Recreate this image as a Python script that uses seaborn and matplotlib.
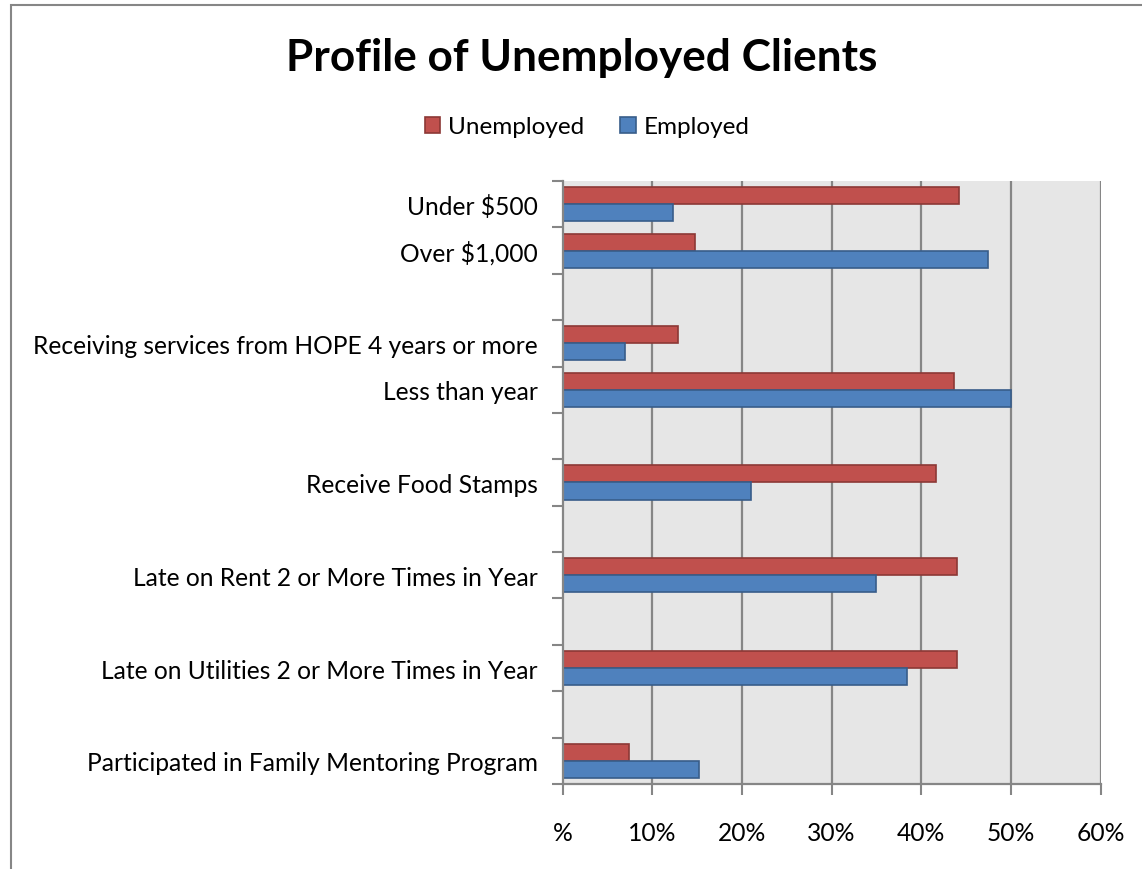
import matplotlib
matplotlib.use("Agg")
import matplotlib.pyplot as plt
from matplotlib.patches import Rectangle
from matplotlib.ticker import FixedLocator
import seaborn as sns
import pandas as pd
import numpy as np

# ---- data ----
categories = ["Under $500", "Over $1,000", "",
              "Receiving services from HOPE 4 years or more", "Less than year", "",
              "Receive Food Stamps", "",
              "Late on Rent 2 or More Times in Year", "",
              "Late on Utilities 2 or More Times in Year", "",
              "Participated in Family Mentoring Program"]
unemployed = [44.2, 14.8, None, 12.9, 43.6, None, 41.6, None, 44.0, None, 44.0, None, 7.4]
employed = [12.3, 47.4, None, 7.0, 50.0, None, 21.0, None, 34.9, None, 38.4, None, 15.2]
series = ["Unemployed", "Employed"]
x_ticks = [0, 10, 20, 30, 40, 50, 60]
x_tick_labels = ["%", "10%", "20%", "30%", "40%", "50%", "60%"]

slots = [f"s{i:02d}" for i in range(len(categories))]
rows = []
for s, u, e in zip(slots, unemployed, employed):
    if u is not None:
        rows.append({"slot": s, "status": series[0], "value": u})
    if e is not None:
        rows.append({"slot": s, "status": series[1], "value": e})
df = pd.DataFrame(rows)

RED, RED_E = "#C0504D", "#8C3836"
BLUE, BLUE_E = "#4F81BD", "#385D8A"
GRID = "#868686"

sns.set_style("white")
FONT = ["Lato", "DejaVu Sans"]
plt.rcParams["font.family"] = FONT
plt.rcParams["text.color"] = "black"
plt.rcParams["xtick.labelcolor"] = "black"
plt.rcParams["ytick.labelcolor"] = "black"

FS = 17.7
W, H = 1142, 870
fig = plt.figure(figsize=(W / 100, H / 100), dpi=100)
ax = fig.add_axes([562.7 / W, 1 - 785 / H, (1100.7 - 562.7) / W, (785 - 182) / H])
ax.set_facecolor("#E6E6E6")

sns.barplot(data=df, y="slot", x="value", hue="status", order=slots,
            hue_order=series, palette=[RED, BLUE], saturation=1, orient="h",
            width=0.735, linewidth=1.2, errorbar=None, ax=ax, legend=True)
for cont, ec in zip(ax.containers, [RED_E, BLUE_E]):
    for p in cont:
        p.set_edgecolor(ec)

ax.set_xlim(0, 60)
ax.set_ylim(len(slots) - 0.5, -0.5)

# x axis
ax.set_xticks(x_ticks)
ax.set_xticklabels(x_tick_labels, fontsize=FS, color="black")
ax.tick_params(axis="x", length=8, width=1.5, color=GRID, pad=19, bottom=True)
for xv in x_ticks[1:]:
    ax.axvline(xv, color=GRID, lw=1.6, zorder=0.5)

# y axis: major ticks at boundaries, labels at centers
ax.yaxis.set_major_locator(FixedLocator(np.arange(-0.5, len(slots), 1.0)))
ax.yaxis.set_minor_locator(FixedLocator(np.arange(len(slots))))
ax.set_yticklabels([], minor=False)
ax.set_yticklabels(categories, minor=True, fontsize=FS, color="black")
ax.tick_params(axis="y", which="major", length=8, width=1.5, color=GRID, left=True)
ax.tick_params(axis="y", which="minor", length=0, pad=18)
ax.set_xlabel("")
ax.set_ylabel("")

for side in ["top", "right"]:
    ax.spines[side].set_visible(False)
for side in ["left", "bottom"]:
    ax.spines[side].set_color(GRID)
    ax.spines[side].set_linewidth(1.6)
    ax.spines[side].set_zorder(3)

# legend
handles, labels = ax.get_legend_handles_labels()
if ax.legend_:
    ax.legend_.remove()
for h, ec in zip(handles, [RED_E, BLUE_E]):
    h.set_edgecolor(ec)
fig.legend(handles, labels, loc="center", bbox_to_anchor=(587 / W, 1 - 128 / H),
           ncol=2, frameon=False, fontsize=17.5, handlelength=0.65, handleheight=0.65,
           handletextpad=0.3, columnspacing=1.5, labelcolor="black")

fig.text(582 / W, 1 - 58 / H, "Profile of Unemployed Clients", ha="center", va="center",
         fontsize=31.8, fontweight="bold", color="black")

fig.add_artist(Rectangle((11 / W, -0.1), 1.2, 1.1 - 6 / H, transform=fig.transFigure,
                         fill=False, edgecolor=GRID, lw=1.5, clip_on=False))

fig.savefig("out.png", dpi=100)
